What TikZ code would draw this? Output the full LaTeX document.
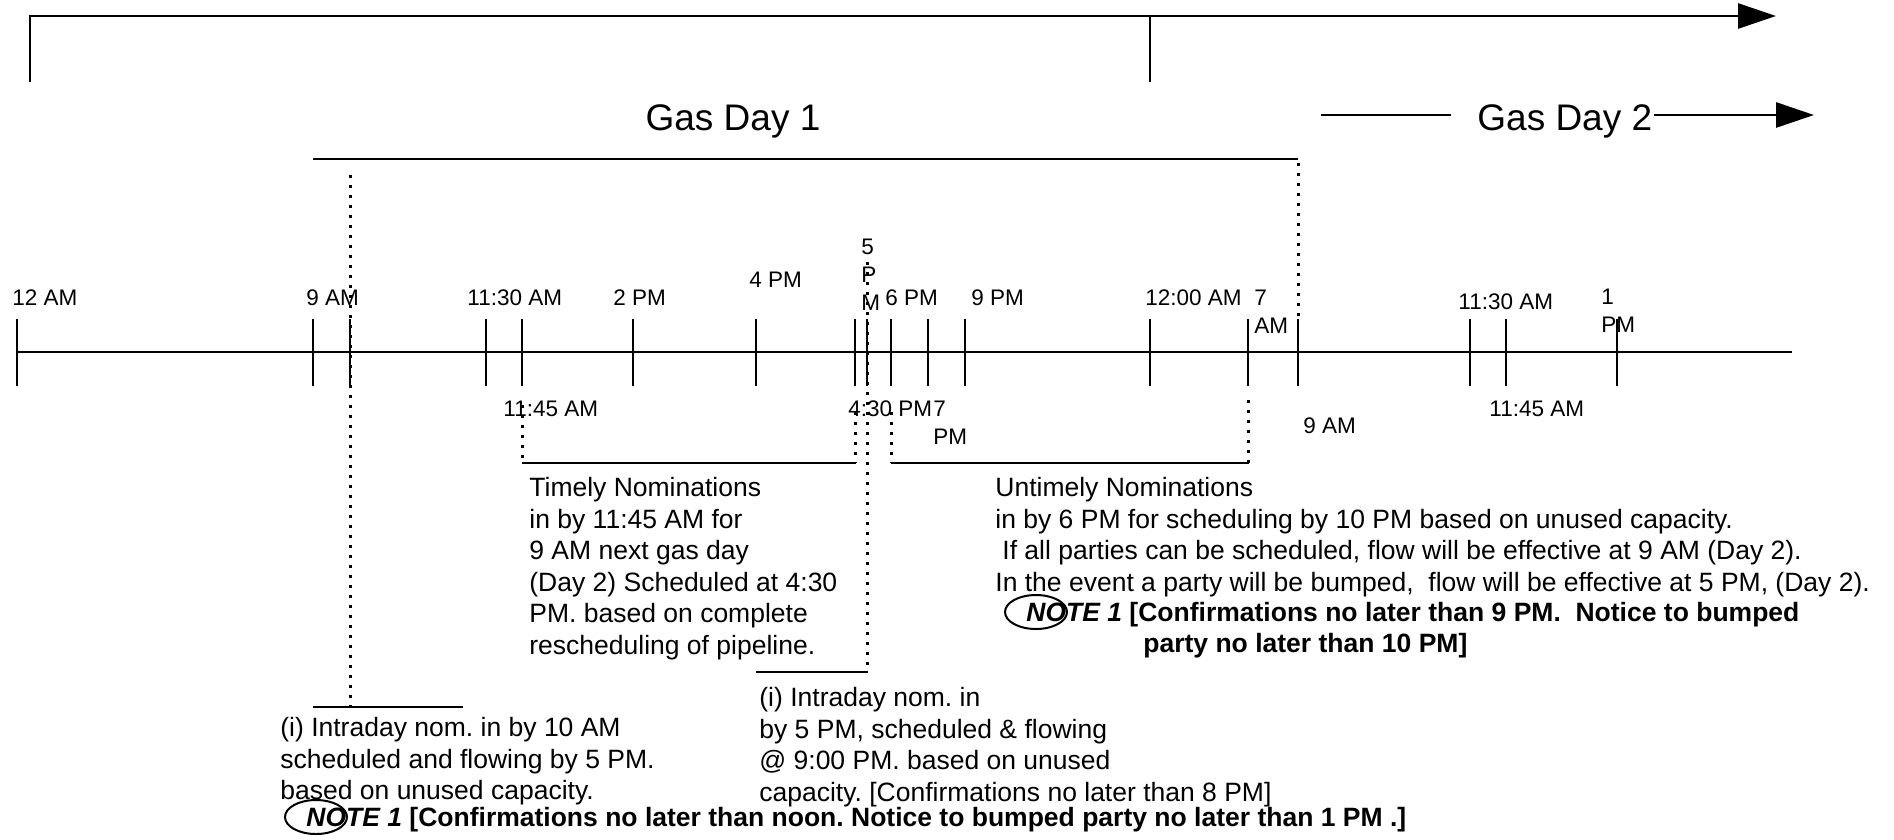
\documentclass[tikz,border=0pt]{standalone}
\usepackage{fontspec}
\setmainfont{Liberation Sans}
\usetikzlibrary{arrows.meta,shapes.geometric}
\frenchspacing
\begin{document}
\begin{tikzpicture}[x=1pt,y=-1pt,line width=2.8pt,
  tl/.style={font=\fontsize{22.5}{28}\selectfont,inner sep=0pt,anchor=base west,align=left},
  body/.style={font=\fontsize{26.5}{31.5}\selectfont,inner sep=0pt,align=left,anchor=north west},
  bodyb/.style={font=\fontsize{26.5}{31.5}\selectfont\bfseries,inner sep=0pt,anchor=base west},
  gas/.style={font=\fontsize{37}{44}\selectfont,inner sep=0pt,anchor=base west},
  dotline/.style={line width=3pt,dash pattern=on 3pt off 7pt},
  tickmark/.style={line width=2.5pt},
  arr/.style={-{Triangle[length=38pt,width=25pt]}},
  ring/.style={draw,ellipse,line width=2pt,minimum width=62pt,minimum height=34pt,inner sep=0pt}]
\useasboundingbox (0,0) rectangle (1894,839);

% top bracket
\coordinate (tl) at (30,82);
\coordinate (tc) at (30,16);
\coordinate (te) at (1776,16);
\coordinate (tm) at (1150,16);
\coordinate (tmb) at (1150,82);
\draw[arr] (tl) -- (tc) -- (te);
\draw (tm) -- (tmb);

% gas day labels
\node[gas,anchor=base] (gd1) at (733,130) {Gas Day 1};
\node[gas] (gd2) at (1476,130) {Gas Day 2};
\coordinate (g2a) at (1321,115);
\coordinate (g2b) at (1451,115);
\coordinate (g2c) at (1654,115);
\coordinate (g2d) at (1814,115);
\draw (g2a) -- (g2b);
\draw[arr] (g2c) -- (g2d);

% second bracket
\coordinate (b2l) at (313,159);
\coordinate (b2r) at (1298,159);
\draw (b2l) -- (b2r);

% timeline
\coordinate (t0) at (17,352);
\coordinate (t1) at (1792,352);
\draw (t0) -- (t1);
\foreach \x in {17,313,350,486,522,633,756,855,867,891,928,965,1150,1248,1298,1470,1506,1617}
  \draw[tickmark] (\x,319) -- (\x,386);

% labels above (multi-line nodes: base = last line)
\node[tl] (l12am) at (11,305) {12 AM};
\node[tl] (l9am) at (305,305) {9 AM};
\node[tl] (l1130) at (466,305) {11:30 AM};
\node[tl] (l2pm) at (612,305) {2 PM};
\node[tl] (l4pm) at (748,287) {4 PM};
\node[tl] (l5pm) at (860,310) {5\\P\\M};
\node[tl] (l6pm) at (884,305) {6 PM};
\node[tl] (l9pm) at (970,305) {9 PM};
\node[tl] (l12b) at (1144,305) {12:00 AM};
\node[tl] (l7am) at (1253,333) {7\\AM};
\node[tl] (l1130b) at (1457,309) {11:30 AM};
\node[tl] (l1pm) at (1600,332) {1\\PM};
% labels below
\node[tl] (l1145) at (502,416) {11:45 AM};
\node[tl] (l430) at (847,416) {4:30 PM};
\node[tl] (l7pm) at (932,444) {7\\PM};
\node[tl] (l9amb) at (1302,433) {9 AM};
\node[tl] (l1145b) at (1488,416) {11:45 AM};

% dotted verticals
\draw[dotline] (350,175) -- (350,708);
\draw[dotline] (1298,163) -- (1298,320);
\draw[dotline] (522,405) -- (522,463);
\draw[dotline] (855,412) -- (855,463);
\draw[dotline] (867,262) -- (867,672);
\draw[dotline] (891,412) -- (891,463);
\draw[dotline] (1248,400) -- (1248,463);

% brackets below
\coordinate (tA) at (522,463);
\coordinate (tB) at (856,463);
\draw (tA) -- (tB);
\coordinate (uA) at (891,463);
\coordinate (uB) at (1249,463);
\draw (uA) -- (uB);
\coordinate (iA) at (756,672);
\coordinate (iB) at (868,672);
\draw (iA) -- (iB);
\coordinate (jA) at (313,707);
\coordinate (jB) at (463,707);
\draw (jA) -- (jB);

% text blocks
\node[body] (timely) at (528,476) {Timely Nominations\\in by 11:45 AM for\\9 AM next gas day\\(Day 2) Scheduled at 4:30\\PM. based on complete\\rescheduling of pipeline.};
\node[body] (untimely) at (994,476) {Untimely Nominations\\in by 6 PM for scheduling by 10 PM based on unused capacity.\\\hspace*{7pt}If all parties can be scheduled, flow will be effective at 9 AM (Day 2).\\In the event a party will be bumped,~ flow will be effective at 5 PM, (Day 2).};
\node[bodyb] (note1) at (1025,621) {\textit{NOTE 1} [Confirmations no later than 9 PM.~ Notice to bumped};
\node[bodyb] (note1b) at (1142,652) {party no later than 10 PM]};
\node[ring] (ring1) at (1036,612) {};

\node[body] (intra2) at (758,686) {(i) Intraday nom. in\\by 5 PM, scheduled \& flowing\\@ 9:00 PM. based on unused\\capacity. [Confirmations no later than 8 PM]};
\node[body] (intra1) at (279,716) {(i) Intraday nom. in by 10 AM\\scheduled and flowing by 5 PM.\\based on unused capacity.};
\node[bodyb] (note2) at (305,826) {\textit{NOTE 1} [Confirmations no later than noon. Notice to bumped party no later than 1 PM .]};
\node[ring] (ring2) at (316,817) {};
\end{tikzpicture}
\end{document}
